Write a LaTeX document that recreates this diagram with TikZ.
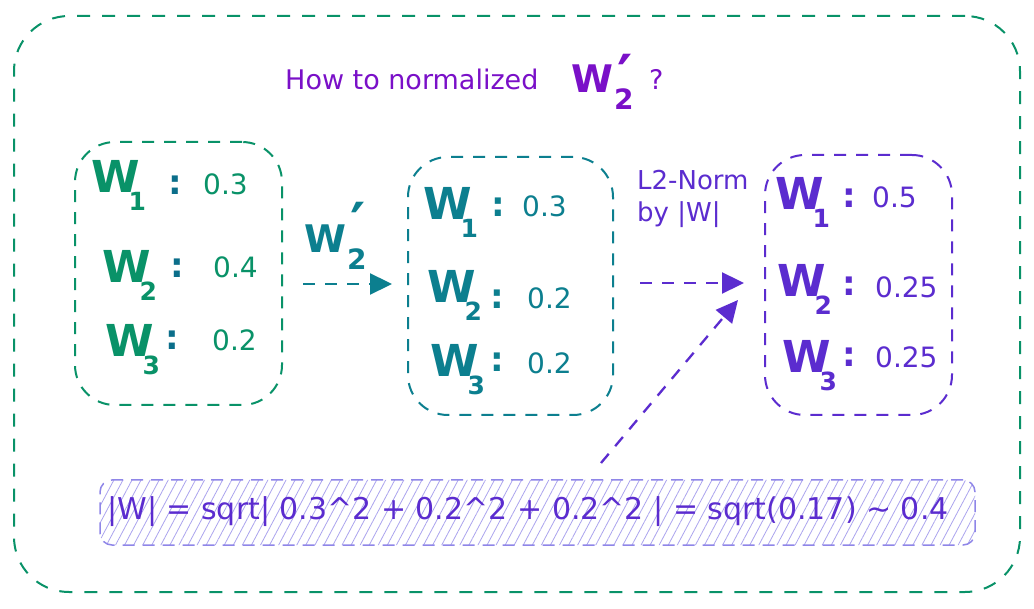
\documentclass[tikz,border=0pt]{standalone}
\usepackage{fontspec}
\setmainfont{DejaVu Sans}
\usetikzlibrary{arrows.meta,patterns.meta}
\definecolor{cgreen}{HTML}{099268}
\definecolor{cteal}{HTML}{0C7F8F}
\definecolor{cviolet}{HTML}{5B2CCF}
\definecolor{cpurple}{HTML}{7A10C8}
\definecolor{chatch}{HTML}{8F86E8}
\definecolor{cdot}{HTML}{0B6E8A}
\newcommand{\Wsub}[1]{{\fontsize{44}{44}\selectfont\bfseries W}\kern-11pt\raisebox{-18pt}{\fontsize{25}{25}\selectfont\bfseries #1}}
\newcommand{\Wprime}[1]{{\fontsize{38}{38}\selectfont\bfseries W}\kern1pt\rlap{\raisebox{-17pt}{\fontsize{28}{28}\selectfont\bfseries 2}}\kern3pt\raisebox{#1}{\fontsize{58}{58}\selectfont\bfseries \symbol{"2032}}}
\tikzset{
  dbox/.style={draw, dash pattern=on 12pt off 10pt, line width=2pt, rounded corners=40pt, minimum width=#1},
  wlab/.style={anchor=base west, inner sep=0pt},
  val/.style={anchor=west, inner sep=0pt, font=\fontsize{28}{30}\selectfont},
  colon/.style={inner sep=0pt, font=\fontsize{34}{34}\selectfont\bfseries, text=cdot},
  darrow/.style={dash pattern=on 12pt off 10pt, line width=2.3pt, -{Triangle[length=22pt,width=21pt]}},
}
\begin{document}
\begin{tikzpicture}[x=1pt,y=-1pt]
\useasboundingbox[fill=white] (0,0) rectangle (1034,609);
% outer frame
\node[draw=cgreen, dash pattern=on 13pt off 12pt, line width=2pt, rounded corners=55pt, minimum width=1006pt, minimum height=576pt] (frame) at (517,304) {};
% title
\node[anchor=base west, inner sep=0pt, text=cpurple, font=\fontsize{27}{27}\selectfont] (title) at (285,90) {How to normalized};
\node[anchor=base west, inner sep=0pt, text=cpurple] (titleW) at (571,93) {\Wprime{-4pt}};
\node[anchor=base west, inner sep=0pt, text=cpurple, font=\fontsize{27}{27}\selectfont] (titleq) at (649,90) {?};
% box 1
\node[dbox=207pt, draw=cgreen, minimum height=263pt] (b1) at (178.5,273.5) {};
\node[wlab, text=cgreen] (b1w1) at (91,193) {\Wsub{1}};
\node[wlab, text=cgreen] (b1w2) at (102,283) {\Wsub{2}};
\node[wlab, text=cgreen] (b1w3) at (105,357) {\Wsub{3}};
\node[colon] (b1c1) at (175,185) {:};
\node[colon] (b1c2) at (177,268) {:};
\node[colon] (b1c3) at (172,340) {:};
\node[val, text=cgreen] (b1v1) at (203,184) {0.3};
\node[val, text=cgreen] (b1v2) at (213,267) {0.4};
\node[val, text=cgreen] (b1v3) at (212,340) {0.2};
% box 2
\node[dbox=205pt, draw=cteal, minimum height=258pt] (b2) at (510.5,286) {};
\node[wlab, text=cteal] (b2w1) at (423,220) {\Wsub{1}};
\node[wlab, text=cteal] (b2w2) at (427,303) {\Wsub{2}};
\node[wlab, text=cteal] (b2w3) at (430,377) {\Wsub{3}};
\node[colon, text=cteal] (b2c1) at (498,207) {:};
\node[colon, text=cteal] (b2c2) at (497,299) {:};
\node[colon, text=cteal] (b2c3) at (497,362) {:};
\node[val, text=cteal] (b2v1) at (522,206) {0.3};
\node[val, text=cteal] (b2v2) at (527,298) {0.2};
\node[val, text=cteal] (b2v3) at (527,363) {0.2};
% box 3
\node[dbox=187pt, draw=cviolet, minimum height=260pt] (b3) at (858.5,285) {};
\node[wlab, text=cviolet] (b3w1) at (775,210) {\Wsub{1}};
\node[wlab, text=cviolet] (b3w2) at (777,297) {\Wsub{2}};
\node[wlab, text=cviolet] (b3w3) at (782,373) {\Wsub{3}};
\node[colon, text=cviolet] (b3c1) at (849,198) {:};
\node[colon, text=cviolet] (b3c2) at (849,286) {:};
\node[colon, text=cviolet] (b3c3) at (849,357) {:};
\node[val, text=cviolet] (b3v1) at (872,197) {0.5};
\node[val, text=cviolet] (b3v2) at (875,287) {0.25};
\node[val, text=cviolet] (b3v3) at (875,357) {0.25};
% formula
\node[draw=chatch, dash pattern=on 12pt off 8pt, line width=1.5pt, rounded corners=12pt,
      pattern={Lines[angle=62, distance=8pt, line width=0.8pt]}, pattern color=chatch!75,
      minimum width=875pt, minimum height=65pt] (fbox) at (537.5,512.5) {};
\node[text=cviolet, font=\fontsize{30}{30}\selectfont, inner sep=0pt] (ftext) at (528,512) {|W| = sqrt| 0.3\^{}2 + 0.2\^{}2 + 0.2\^{}2 | = sqrt(0.17) \textasciitilde{} 0.4};
% arrow 1
\coordinate (a1s) at (303,284);
\coordinate (a1e) at (392,284);
\draw[darrow, cteal] (a1s) -- (a1e);
\node[anchor=base west, inner sep=0pt, text=cteal] (a1lab) at (304,253) {\Wprime{8pt}};
% arrow 2
\coordinate (a2s) at (640,283);
\coordinate (a2e) at (744,283);
\draw[darrow, cviolet] (a2s) -- (a2e);
\node[anchor=base west, align=left, inner sep=0pt, text=cviolet, font=\fontsize{26}{32}\selectfont] (a2lab) at (637,222) {L2-Norm\\by |W|};
% arrow 3
\coordinate (a3s) at (601,463);
\coordinate (a3e) at (738,300);
\draw[darrow, cviolet] (a3s) -- (a3e);
\end{tikzpicture}
\end{document}
